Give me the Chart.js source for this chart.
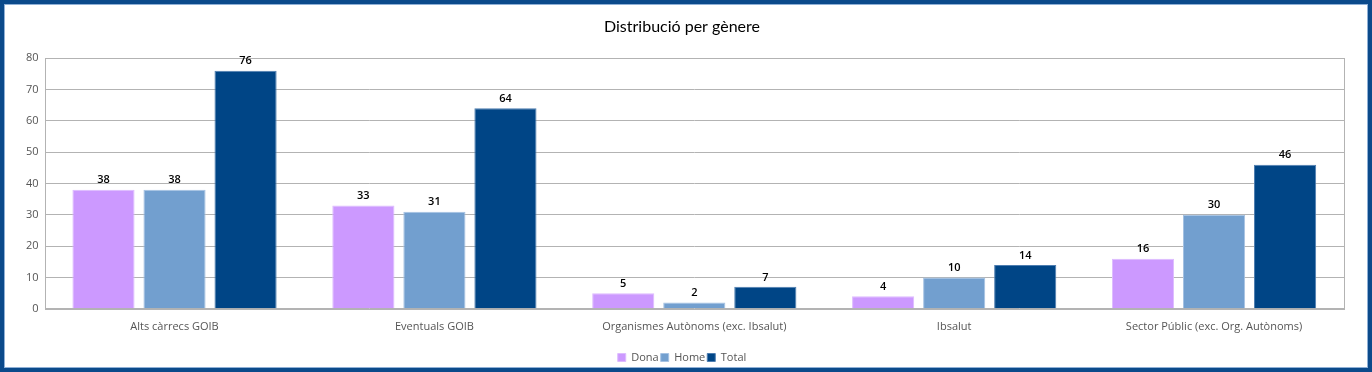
<!DOCTYPE html>
<html><head><meta charset="utf-8">
<script src="https://cdn.jsdelivr.net/npm/chart.js@4/dist/chart.umd.min.js"></script>
<style>
html,body{margin:0;padding:0;background:#fff;}
#wrap{position:absolute;left:0;top:0;width:1364px;height:364px;border:4px solid #0b4a8b;box-shadow:inset 0 0 0 1px #8fb0d6;background:#fff;overflow:hidden;}
canvas{display:block;}
</style></head><body>
<div id="wrap"><canvas id="c" width="1364" height="364"></canvas></div>
<script>
const categories = ["Alts càrrecs GOIB","Eventuals GOIB","Organismes Autònoms (exc. Ibsalut)","Ibsalut","Sector Públic (exc. Org. Autònoms)"];
const dona = [38,33,5,4,16];
const home = [38,31,2,10,30];
const total = [76,64,7,14,46];
const yTicks = [0,10,20,30,40,50,60,70,80];

const labelPlugin = {
  id:'valLabels',
  afterDatasetsDraw(chart){
    const ctx = chart.ctx;
    ctx.save();
    ctx.font = '600 11px "Open Sans"';
    ctx.fillStyle = '#000';
    ctx.textAlign = 'center';
    ctx.textBaseline = 'bottom';
    chart.data.datasets.forEach((ds,i)=>{
      chart.getDatasetMeta(i).data.forEach((bar,j)=>{
        ctx.fillText(ds.data[j], bar.x, bar.y-4);
      });
    });
    ctx.restore();
  }
};
const framePlugin = {
  id:'frame',
  beforeDatasetsDraw(chart){
    const a = chart.chartArea, ctx = chart.ctx;
    ctx.save();
    ctx.strokeStyle = '#b3b3b3';
    ctx.lineWidth = 1;
    ctx.strokeRect(Math.round(a.left)+0.5, Math.round(a.top)+0.5, Math.round(a.right-a.left), Math.round(a.bottom-a.top));
    ctx.restore();
  }
};

new Chart(document.getElementById('c'),{
  type:'bar',
  data:{
    labels:categories,
    datasets:[
      {label:'Dona',data:dona,backgroundColor:'#cc99ff',borderColor:'#ddbbff',borderWidth:1},
      {label:'Home',data:home,backgroundColor:'#729fcf',borderColor:'#a5c2e3',borderWidth:1},
      {label:'Total',data:total,backgroundColor:'#004586',borderColor:'#4d7db0',borderWidth:1}
    ]
  },
  options:{
    responsive:false,
    animation:false,
    layout:{padding:{left:16,right:24,top:0,bottom:-5}},
    datasets:{bar:{categoryPercentage:0.82,barPercentage:0.875}},
    plugins:{
      title:{display:true,text:'Distribució per gènere',font:{family:'Lato',size:16,weight:'normal'},color:'#000',padding:{top:13,bottom:22}},
      legend:{position:'bottom',labels:{boxWidth:8,boxHeight:8,padding:2,font:{family:'Open Sans',size:11},color:'#555'}},
      tooltip:{enabled:false}
    },
    scales:{
      y:{min:0,max:80,
        afterBuildTicks(ax){ax.ticks = yTicks.map(v=>({value:v}));},
        ticks:{font:{family:'Open Sans',size:11},color:'#555',padding:6},
        grid:{color:'#b3b3b3',drawTicks:false},border:{display:false}},
      x:{ticks:{font:{family:'Open Sans',size:11},color:'#555',padding:3},
        afterFit(ax){ax.height += 14;},
        grid:{display:false},border:{display:false}}
    }
  },
  plugins:[labelPlugin,framePlugin]
});
</script>
</body></html>
